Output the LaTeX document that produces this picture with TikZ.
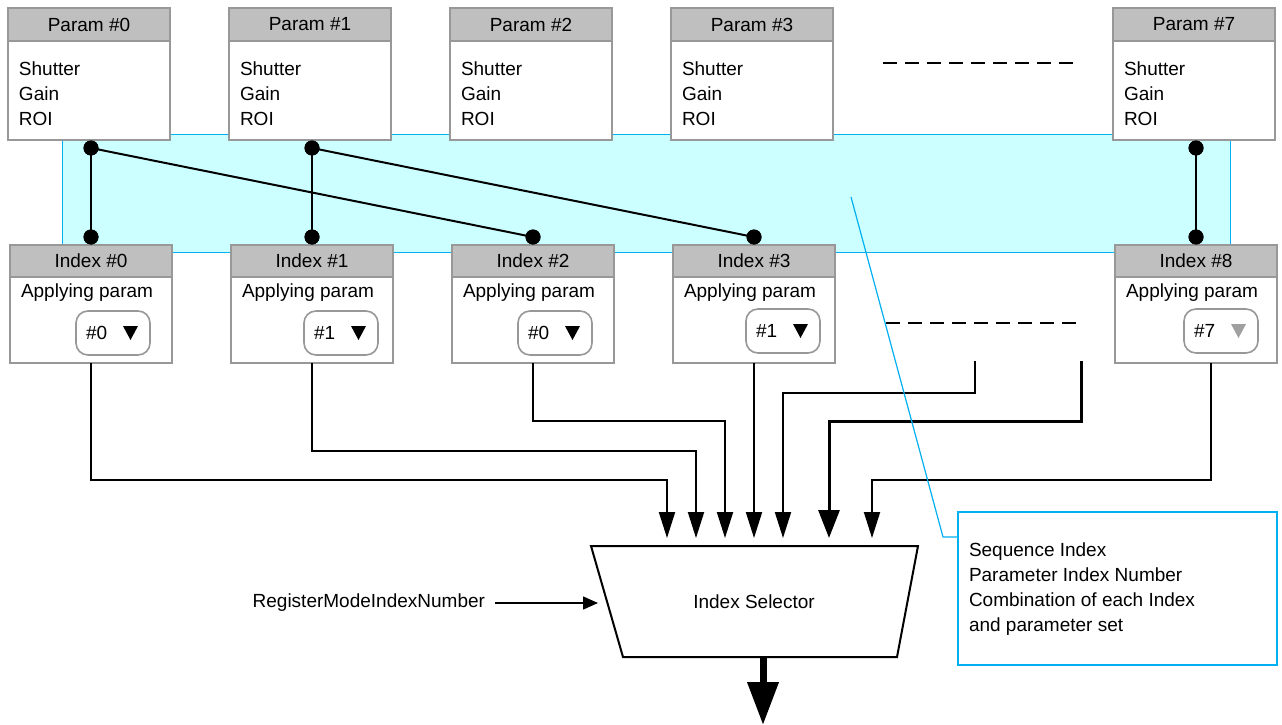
\documentclass[tikz,border=0pt]{standalone}
\usepackage{fontspec}
\setmainfont{Liberation Sans}
\usetikzlibrary{arrows.meta,calc}
\definecolor{boxgray}{HTML}{989898}
\definecolor{headgray}{HTML}{BFBFBF}
\definecolor{bandfill}{HTML}{CCFFFF}
\definecolor{bandline}{HTML}{00B0F0}
\definecolor{trigray}{HTML}{A0A0A0}
\begin{document}
\begin{tikzpicture}[x=1pt,y=-1pt,
  every node/.style={font=\fontsize{19}{25}\selectfont, inner sep=0pt, outer sep=0pt},
  headbox/.style={draw=boxgray, fill=headgray, line width=2pt, minimum width=162pt, anchor=north west},
  bodybox/.style={draw=boxgray, fill=white, line width=2pt, minimum width=162pt, anchor=north west},
  ddbox/.style={draw=boxgray, fill=white, line width=1.6pt, minimum width=74pt, minimum height=44pt, rounded corners=12pt, anchor=north west},
  dot/.style={circle, fill=black, minimum size=15pt},
  conn/.style={line width=2pt, black},
  arr/.style={conn, -{Triangle[length=26pt,width=16pt]}},
  thickarr/.style={line width=3pt, black, -{Triangle[length=28pt,width=21pt]}},
  dashline/.style={line width=2pt, dash pattern=on 14pt off 8pt},
  callline/.style={draw=bandline, line width=1.2pt}
]
\useasboundingbox (0,0) rectangle (1282,725);
\fill[white] (0,0) rectangle (1282,725);

% cyan band
\node[anchor=north west, fill=bandfill, draw=bandline, line width=1pt, minimum width=1168pt, minimum height=118pt] (band) at (62,134) {};

% parameter boxes
\foreach \i/\x in {0/8,1/229,2/450,3/671,7/1113}{
  \node[headbox, minimum height=33pt] (ph\i) at (\x,8) {Param \#\i};
  \node[bodybox, minimum height=99pt] (pb\i) at (\x,41) {};
  \node[anchor=north west, align=left] (pt\i) at (\x+11,62) {Shutter\\Gain\\ROI};
}

% index boxes
\foreach \i/\x/\d/\dx/\dy/\tc in {0/10/0/76/311/black,1/231/1/304/311/black,2/452/0/518/311/black,3/673/1/746/309/black,8/1115/7/1184/309/trigray}{
  \node[headbox, minimum height=32pt] (ih\i) at (\x,245) {Index \#\i};
  \node[bodybox, minimum height=86pt] (ib\i) at (\x,277) {};
  \node[anchor=north west] (it\i) at (\x+11,284) {Applying param};
  \node[ddbox] (dd\i) at (\dx,\dy) {};
  \node[anchor=west] (dt\i) at (\dx+10,\dy+22) {\#\d};
  \fill[\tc] (\dx+47,\dy+15) -- (\dx+62,\dy+15) -- (\dx+54.5,\dy+29) -- cycle;
}

% ellipsis dashes
\draw[dashline] (883,63) -- (1078,63);
\draw[dashline] (886,323) -- (1080,323);

% dots and parameter links
\node[dot] (a0) at (91,148) {};
\node[dot] (a1) at (312,148) {};
\node[dot] (a7) at (1196,148) {};
\node[dot] (b0) at (91,237) {};
\node[dot] (b1) at (312,237) {};
\node[dot] (b2) at (533,237) {};
\node[dot] (b3) at (754,237) {};
\node[dot] (b8) at (1196,237) {};
\draw[conn] (a0.center) -- (b0.center);
\draw[conn] (a0.center) -- (b2.center);
\draw[conn] (a1.center) -- (b1.center);
\draw[conn] (a1.center) -- (b3.center);
\draw[conn] (a7.center) -- (b8.center);
\foreach \n in {a0,a1,a7,b0,b1,b2,b3,b8}{\fill (\n) circle (7.5pt);}

% index selector
\coordinate (sA) at (591,546);
\coordinate (sB) at (918,546);
\coordinate (sC) at (897,657);
\coordinate (sD) at (623,657);
\draw[line width=2pt] (sA) -- (sB) -- (sC) -- (sD) -- cycle;
\node (sel) at (754,602) {Index Selector};

% arrow targets
\coordinate (t1) at (667,538);
\coordinate (t2) at (696,538);
\coordinate (t3) at (725,538);
\coordinate (t4) at (754,538);
\coordinate (t5) at (783,538);
\coordinate (t6) at (829,538);
\coordinate (t7) at (872,538);
\coordinate (s5) at (975,361);
\coordinate (s6) at (1081,361);

\draw[arr] (ib0.south) -- (ib0.south |- 0,480) -| (t1);
\draw[arr] (ib1.south) -- (ib1.south |- 0,451) -| (t2);
\draw[arr] (ib2.south) -- (ib2.south |- 0,421) -| (t3);
\draw[arr] (ib3.south) -- (t4);
\draw[arr] (s5) -- (s5 |- 0,393) -| (t5);
\draw[thickarr] (s6) -- (s6 |- 0,421) -| (t6);
\draw[arr] ([xshift=15pt]ib8.south) -- ([xshift=15pt]ib8.south |- 0,480) -| (t7);

% register input
\node[anchor=east] (reg) at (485,603) {RegisterModeIndexNumber};
\coordinate (sin) at (598,603);
\draw[line width=1.5pt, -{Triangle[length=15pt,width=13pt]}] ([xshift=10pt]reg.east) -- (sin);

% output
\coordinate (oA) at (763,657);
\coordinate (oB) at (763,725);
\draw[line width=7pt, -{Triangle[length=43pt,width=30pt]}] (oA) -- (oB);

% callout
\node[anchor=north west, draw=bandline, line width=1.2pt, fill=white, minimum width=319pt, minimum height=153pt] (cb) at (958,512) {};
\node[anchor=north west, align=left] (ct) at (969,543) {Sequence Index\\Parameter Index Number\\Combination of each Index\\and parameter set};
\coordinate (cp) at (851,197);
\draw[callline] (cp) -- (943,537) -- (cb.west |- 0,537);
\end{tikzpicture}
\end{document}
